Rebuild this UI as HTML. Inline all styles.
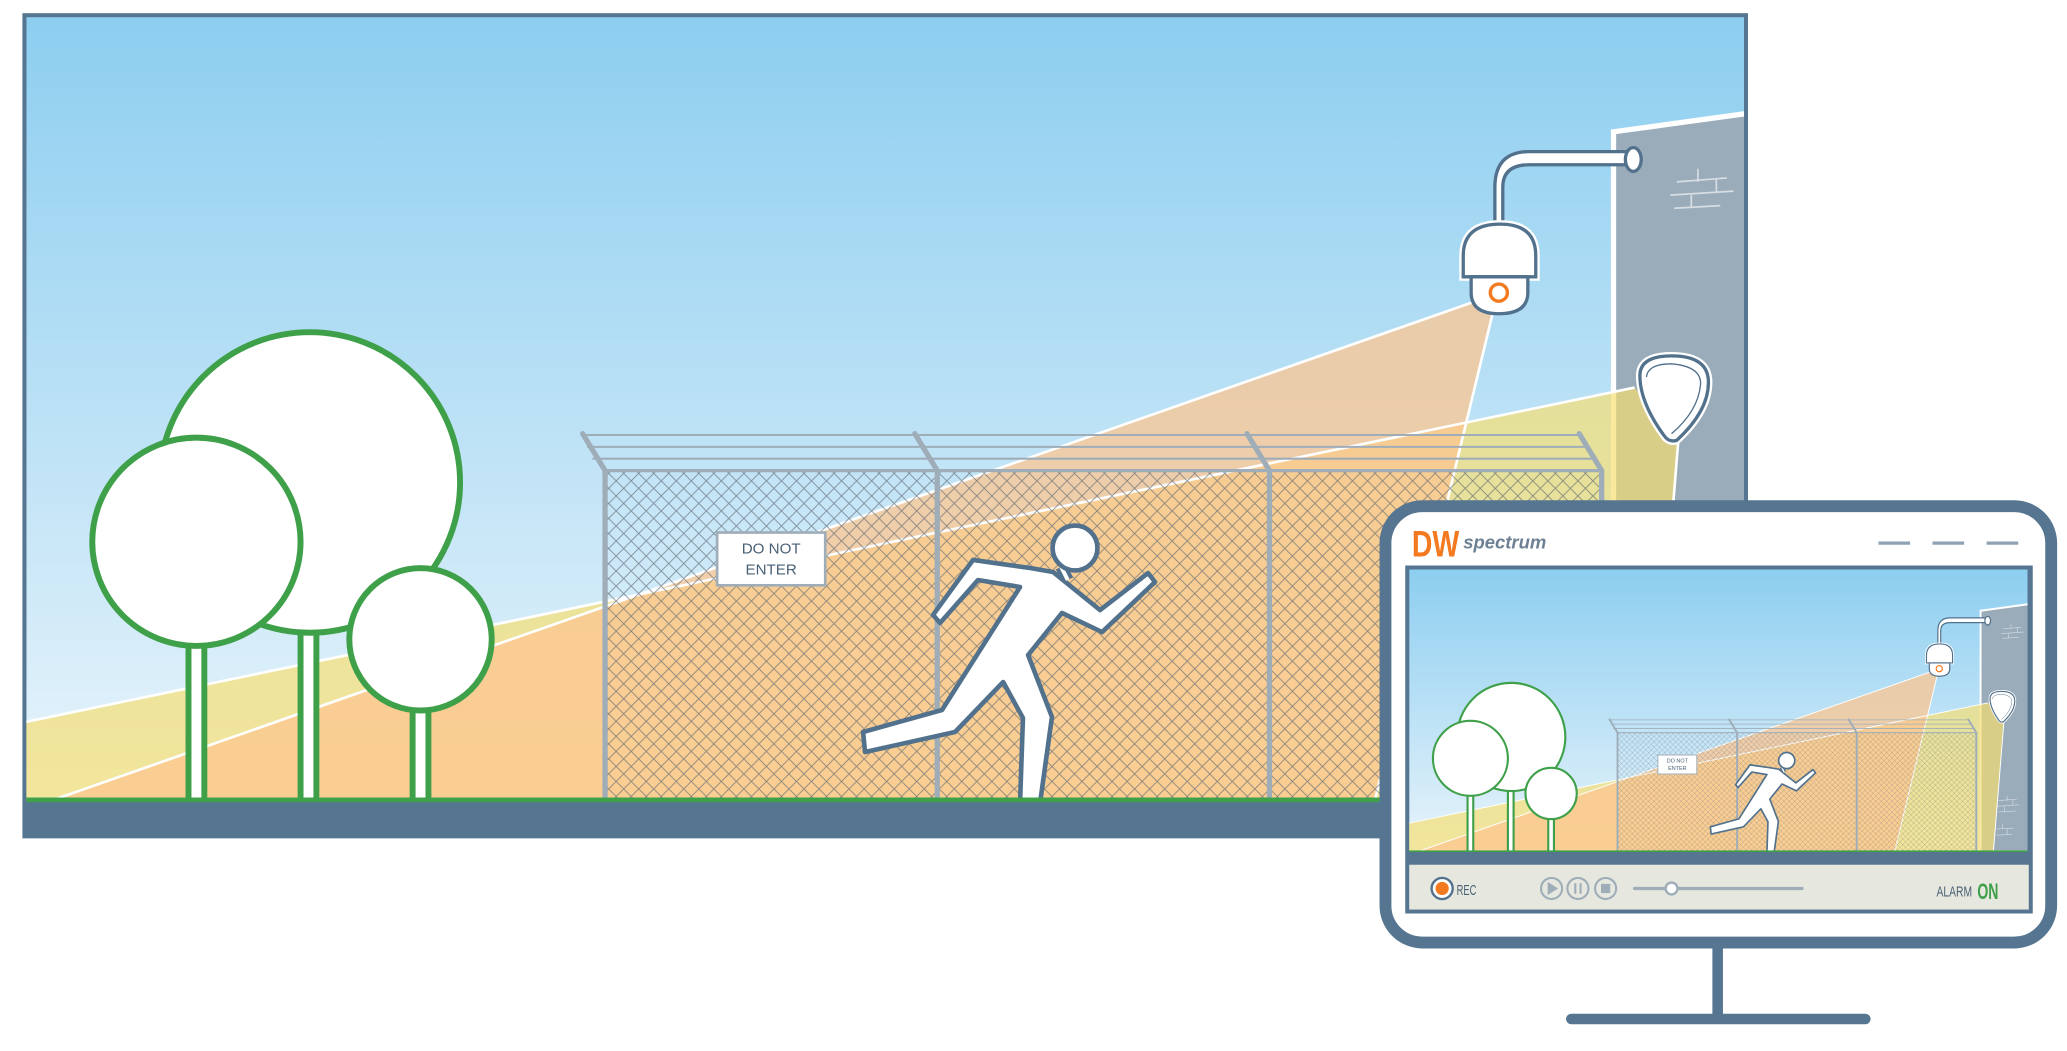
<!DOCTYPE html>
<html><head><meta charset="utf-8"><style>
html,body{margin:0;padding:0;background:#fff;}
svg{display:block;}
</style></head><body>
<svg width="2067" height="1051" viewBox="0 0 1568 797.3" preserveAspectRatio="none" xmlns="http://www.w3.org/2000/svg">
<defs>
<linearGradient id="sky" x1="0" y1="0" x2="0" y2="1">
<stop offset="0" stop-color="#8dcef0"/><stop offset="1" stop-color="#e8f4fb"/>
</linearGradient>
<pattern id="mesh" width="11.4" height="11.4" patternUnits="userSpaceOnUse">
<path d="M0 0L11.4 11.4M11.4 0L0 11.4" stroke="#5d6670" stroke-width="0.7" opacity="0.7"/>
</pattern>
<clipPath id="sc"><rect x="20" y="13" width="1303" height="594"/></clipPath>
<g id="scene">
<g clip-path="url(#sc)">
<rect x="20" y="13" width="1303" height="594" fill="url(#sky)"/>
<polygon points="1224,100 1326,86 1326,607 1224,607" fill="#9aacba" stroke="#fff" stroke-width="4"/>
<g stroke="#d6dde3" stroke-width="1.3" fill="none">
<path d="M1272 138L1310 135M1267 148L1315 145M1270 158L1305 156M1288 128V138M1302 135V146M1283 148V158"/>
<path d="M1262 500L1300 497M1258 512L1305 509M1262 524L1298 522M1280 490V500M1292 497V509M1274 512V524"/>
<path d="M1255 560L1295 558M1258 573L1290 571M1270 550V560M1280 560V572"/>
</g>
<polygon points="1240,294 18,548 18,607 1251,607 1273,336" fill="#f8de6e" opacity="0.68"/>
<polygon points="1118,229 40,607 1043,607 1132,239" fill="#fcc590" opacity="0.75"/>
<g stroke="#fff" stroke-width="2" fill="none">
<line x1="1240" y1="294" x2="18" y2="548"/>
<line x1="1273" y1="336" x2="1251" y2="607"/>
<line x1="1118" y1="229" x2="40" y2="607"/>
<line x1="1132" y1="239" x2="1043" y2="607"/>
</g>
<rect x="459" y="357" width="756" height="250" fill="url(#mesh)"/>
<g stroke="#9fadb9" fill="none" stroke-linecap="round">
<g stroke-width="1.6">
<line x1="442" y1="330" x2="1200" y2="330"/>
<line x1="446" y1="339" x2="1205" y2="339"/>
<line x1="450" y1="348" x2="1210" y2="348"/>
</g>
<line x1="459" y1="357" x2="1215" y2="357" stroke-width="2.5"/>
<g stroke-width="4">
<path d="M442 329L459 357V607"/><path d="M694 329L711 357V607"/>
<path d="M946 329L963 357V607"/><path d="M1198 329L1215 357V607"/>
</g>
</g>
<rect x="544" y="404" width="82" height="40" fill="#fff" stroke="#9fadb9" stroke-width="2"/>
<text x="585" y="420" font-family="Liberation Sans, sans-serif" font-size="11.5" fill="#4a6075" text-anchor="middle">DO NOT</text>
<text x="585" y="436" font-family="Liberation Sans, sans-serif" font-size="11.5" fill="#4a6075" text-anchor="middle">ENTER</text>
<polygon points="738.1,424.8 781.4,430.9 798.8,433.9 834.5,462.8 870.9,434.7 876.2,441.5 836,479.5 805.6,465 779.9,496.9 798,543.9 789,609 773.8,609 776,544.7 761,517.4 724.5,555.3 656.2,570.5 654.7,555.3 714.6,538.6 773.8,445.3 741.9,440 713.1,472.6 707.8,466.5" fill="#fff" stroke="#52718c" stroke-width="3.5" stroke-linejoin="round"/>
<line x1="805" y1="430" x2="810" y2="440" stroke="#52718c" stroke-width="9"/><line x1="805" y1="430" x2="810" y2="440" stroke="#fff" stroke-width="3"/>
<circle cx="815.5" cy="415.7" r="17" fill="#fff" stroke="#52718c" stroke-width="3.5"/>
<g stroke="#3fa04a" stroke-width="4.5" fill="#fff">
<rect x="228" y="470" width="12" height="140"/>
<rect x="143" y="480" width="12" height="130"/>
<rect x="313" y="530" width="12" height="80"/>
<circle cx="235" cy="366" r="114"/>
<circle cx="149" cy="411" r="79"/>
<circle cx="319" cy="485" r="54"/>
</g>
<g stroke="#52718c" stroke-width="2.5" fill="#fff">
<path d="M1237 115H1160Q1134 115 1134 142V172H1140V142Q1140 125 1160 125H1237Z"/>
<ellipse cx="1239" cy="121" rx="6" ry="9"/>
<path d="M1110 210V194Q1110 170 1138 170Q1165 170 1165 194V210Z" stroke="#fff" stroke-width="6"/>
<path d="M1110 210V194Q1110 170 1138 170Q1165 170 1165 194V210Z"/>
<path d="M1116 210V222Q1116 238 1137 238Q1159 238 1159 222V210Z"/>
<circle cx="1137" cy="222" r="6.5" stroke="#f47a20" stroke-width="2.6"/>
</g>
<path d="M1244 285Q1244 270 1268 270Q1296 270 1296 290Q1296 312 1272 334Q1266 336 1262 330Q1244 305 1244 285Z" fill="#fff" stroke="#fff" stroke-width="6"/>
<path d="M1244 285Q1244 270 1268 270Q1296 270 1296 290Q1296 312 1272 334Q1266 336 1262 330Q1244 305 1244 285Z" fill="#fff" stroke="#52718c" stroke-width="2.5"/>
<path d="M1249 286Q1250 276 1268 276Q1291 278 1290 292Q1288 312 1268 329" fill="none" stroke="#52718c" stroke-width="1"/>
</g>
<rect x="20" y="605" width="1303" height="3.5" fill="#3fa04a"/>
</g>
</defs>

<rect x="17" y="10" width="1309" height="626" fill="#557590"/>
<use href="#scene"/>

<line x1="1303" y1="712" x2="1303" y2="773" stroke="#557590" stroke-width="8"/>
<line x1="1192" y1="773" x2="1415" y2="773" stroke="#557590" stroke-width="8" stroke-linecap="round"/>
<rect x="1051" y="384" width="505" height="331" rx="28" fill="#fff" stroke="#557590" stroke-width="9"/>
<text x="1071" y="422" font-family="Liberation Sans, sans-serif" font-weight="bold" font-size="28" fill="#f47a20" textLength="36" lengthAdjust="spacingAndGlyphs">DW</text>
<text x="1110" y="416" font-family="Liberation Sans, sans-serif" font-style="italic" font-weight="bold" font-size="14" fill="#6e8194">spectrum</text>
<g stroke="#8ea2b4" stroke-width="2.5"><line x1="1425" y1="412" x2="1449" y2="412"/><line x1="1466" y1="412" x2="1490" y2="412"/><line x1="1507" y1="412" x2="1531" y2="412"/></g>
<rect x="1066" y="429" width="476" height="264" fill="#557590"/>
<g transform="translate(1069,432) scale(0.36) translate(-20,-13)"><use href="#scene"/></g>
<rect x="1069" y="656" width="470" height="34" fill="#e6e8df"/>
<circle cx="1094" cy="674" r="8" fill="#fff" stroke="#52718c" stroke-width="1.8"/>
<circle cx="1094" cy="674" r="5" fill="#f47a20"/>
<text x="1105" y="679" font-family="Liberation Sans, sans-serif" font-size="11" fill="#4a6075" textLength="15" lengthAdjust="spacingAndGlyphs">REC</text>
<g fill="none" stroke="#9fadb9" stroke-width="1.6">
<circle cx="1177" cy="674" r="8"/><circle cx="1197" cy="674" r="8"/><circle cx="1218" cy="674" r="8"/>
</g>
<polygon points="1174,669 1182,674 1174,679" fill="#9fadb9"/>
<g stroke="#9fadb9" stroke-width="1.6"><line x1="1195" y1="670" x2="1195" y2="678"/><line x1="1199" y1="670" x2="1199" y2="678"/></g>
<rect x="1214.5" y="670.5" width="7" height="7" fill="#9fadb9"/>
<line x1="1240" y1="674" x2="1367" y2="674" stroke="#9fadb9" stroke-width="2.5" stroke-linecap="round"/>
<circle cx="1268" cy="674" r="4.5" fill="#fff" stroke="#9fadb9" stroke-width="1.8"/>
<text x="1469" y="680" font-family="Liberation Sans, sans-serif" font-size="11" fill="#4a6075" textLength="27" lengthAdjust="spacingAndGlyphs">ALARM</text>
<text x="1500" y="682" font-family="Liberation Sans, sans-serif" font-weight="bold" font-size="17" fill="#3fa04a" textLength="16" lengthAdjust="spacingAndGlyphs">ON</text>
</svg>
</body></html>
